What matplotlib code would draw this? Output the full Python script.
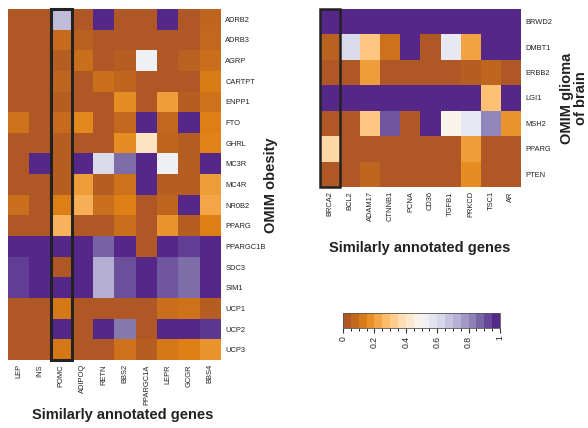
import numpy as np
import matplotlib
matplotlib.use("Agg")
import matplotlib.pyplot as plt
from matplotlib.colors import LinearSegmentedColormap, ListedColormap, BoundaryNorm
from matplotlib.patches import Rectangle
import matplotlib.cm as cm

plt.rcParams['font.family'] = ['Liberation Sans', 'DejaVu Sans']

# ---------------- data ----------------
left_cols = ["LEP", "INS", "POMC", "ADIPOQ", "RETN", "BBS2", "PPARGC1A", "LEPR", "GCGR", "BBS4"]
left_rows = ["ADRB2", "ADRB3", "AGRP", "CARTPT", "ENPP1", "FTO", "GHRL", "MC3R", "MC4R",
             "NR0B2", "PPARG", "PPARGC1B", "SDC3", "SIM1", "UCP1", "UCP2", "UCP3"]
left_vals = [
    [0, 0, 0.70, 0, 1, 0, 0, 1, 0, 0.04],
    [0, 0, 0.06, 0.03, 0, 0, 0, 0, 0, 0.05],
    [0, 0, 0.02, 0.07, 0, 0.02, 0.53, 0, 0.03, 0.07],
    [0, 0, 0.04, 0, 0.07, 0.04, 0, 0, 0, 0.11],
    [0, 0, 0.02, 0, 0, 0.15, 0, 0.19, 0.02, 0.08],
    [0.08, 0, 0.06, 0.14, 0, 0.05, 1, 0.05, 1, 0.12],
    [0, 0, 0.02, 0, 0, 0.15, 0.40, 0.04, 0.02, 0.13],
    [0, 1, 0.02, 1, 0.62, 0.88, 1, 0.53, 0.02, 1],
    [0, 0, 0.02, 0.19, 0.02, 0.08, 1, 0.02, 0.02, 0.19],
    [0.07, 0, 0.12, 0.23, 0.07, 0.12, 0, 0.04, 1, 0.21],
    [0, 0, 0.24, 0, 0, 0.07, 0, 0.17, 0.02, 0.12],
    [1, 1, 1, 1, 0.90, 1, 0, 1, 0.96, 1],
    [0.96, 1, 0, 1, 0.74, 0.93, 1, 0.92, 0.88, 1],
    [0.96, 1, 1, 1, 0.74, 0.93, 1, 0.92, 0.88, 1],
    [0, 0, 0.10, 0, 0, 0, 0, 0.07, 0.08, 0.02],
    [0, 0, 1, 0, 1, 0.86, 0, 1, 1, 0.97],
    [0, 0, 0.10, 0, 0, 0.08, 0.02, 0.10, 0.12, 0.17],
]
left_box_col = "POMC"

right_cols = ["BRCA2", "BCL2", "ADAM17", "CTNNB1", "PCNA", "CD36", "TGFB1", "PRKCD", "TSC1", "AR"]
right_rows = ["BRWD2", "DMBT1", "ERBB2", "LGI1", "MSH2", "PPARG", "PTEN"]
right_vals = [
    [1, 1, 1, 1, 1, 1, 1, 1, 1, 1],
    [0.03, 0.62, 0.30, 0.08, 1, 0, 0.56, 0.20, 1, 1],
    [0, 0, 0.19, 0, 0, 0, 0, 0.02, 0.04, 0],
    [1, 1, 1, 1, 1, 1, 1, 1, 0.28, 1],
    [0, 0, 0.30, 0.92, 0, 1, 0.48, 0.56, 0.83, 0.17],
    [0.35, 0, 0, 0, 0, 0, 0, 0.19, 0, 0],
    [0, 0, 0.04, 0, 0, 0, 0, 0.15, 0, 0],
]
right_box_col = "BRCA2"

cbar_ticks = [0, 0.2, 0.4, 0.6, 0.8, 1]
cbar_ticklabels = ["0", "0.2", "0.4", "0.6", "0.8", "1"]

# ---------------- colours ----------------
pal = ["#af5825", "#e08214", "#fdb863", "#fee0b6", "#f7f7f7",
       "#d8daeb", "#b2abd2", "#8073ac", "#542788"]
cmap = LinearSegmentedColormap.from_list("puor_mid", pal, N=256)
nbins = 20
disc_cmap = ListedColormap([cmap(i / (nbins - 1)) for i in range(nbins)])

W, H = 588, 428
fig = plt.figure(figsize=(W / 100, H / 100), dpi=100)


def fx(px):
    return px / W


def fy(py):
    return 1 - py / H


def heat(ax, vals, rows, cols, box_col, box_lw):
    arr = np.array(vals, dtype=float)
    ax.imshow(arr, cmap=cmap, vmin=0, vmax=1, aspect='auto', interpolation='nearest')
    ax.set_xticks(np.arange(len(cols)))
    ax.set_xticklabels(cols, rotation=90, fontsize=5.4, color='#222222')
    ax.set_yticks(np.arange(len(rows)))
    ax.set_yticklabels(rows, fontsize=5.4, color='#222222')
    ax.yaxis.tick_right()
    ax.tick_params(length=0, pad=3)
    for s in ax.spines.values():
        s.set_visible(False)
    j = cols.index(box_col)
    ax.add_patch(Rectangle((j - 0.5, -0.5), 1, len(rows), fill=False,
                           edgecolor='#222222', lw=box_lw, clip_on=False, zorder=5))


# left heatmap
axL = fig.add_axes([fx(8), fy(360), fx(221) - fx(8), fy(9) - fy(360)])
heat(axL, left_vals, left_rows, left_cols, left_box_col, 2.2)

# right heatmap
axR = fig.add_axes([fx(320), fy(187), fx(521) - fx(320), fy(9) - fy(187)])
heat(axR, right_vals, right_rows, right_cols, right_box_col, 1.8)

# colorbar
cax = fig.add_axes([fx(343), fy(328), fx(500) - fx(343), fy(313) - fy(328)])
bounds = np.linspace(0, 1, nbins + 1)
sm = cm.ScalarMappable(norm=BoundaryNorm(bounds, nbins), cmap=disc_cmap)
cb = fig.colorbar(sm, cax=cax, orientation='horizontal', ticks=cbar_ticks)
cb.ax.set_xticklabels(cbar_ticklabels, rotation=90, fontsize=6.2, color='#222222')
cb.ax.tick_params(length=3.5, width=0.8, color='#333333', pad=2)
cb.outline.set_linewidth(0.6)
cb.outline.set_edgecolor('#555555')

# labels
fig.text(fx(123), fy(415), "Similarly annotated genes", ha='center', va='center',
         fontsize=10.5, fontweight='bold', color='#222222')
fig.text(fx(420), fy(248), "Similarly annotated genes", ha='center', va='center',
         fontsize=10.5, fontweight='bold', color='#222222')
fig.text(fx(270.5), fy(185), "OMIM obesity", ha='center', va='center', rotation=90,
         fontsize=10.5, fontweight='bold', color='#222222')
fig.text(fx(574), fy(98), "OMIM glioma\nof brain", ha='center', va='center', rotation=90,
         fontsize=10.5, fontweight='bold', color='#222222', linespacing=1.0)

fig.savefig("out.png", dpi=100)
